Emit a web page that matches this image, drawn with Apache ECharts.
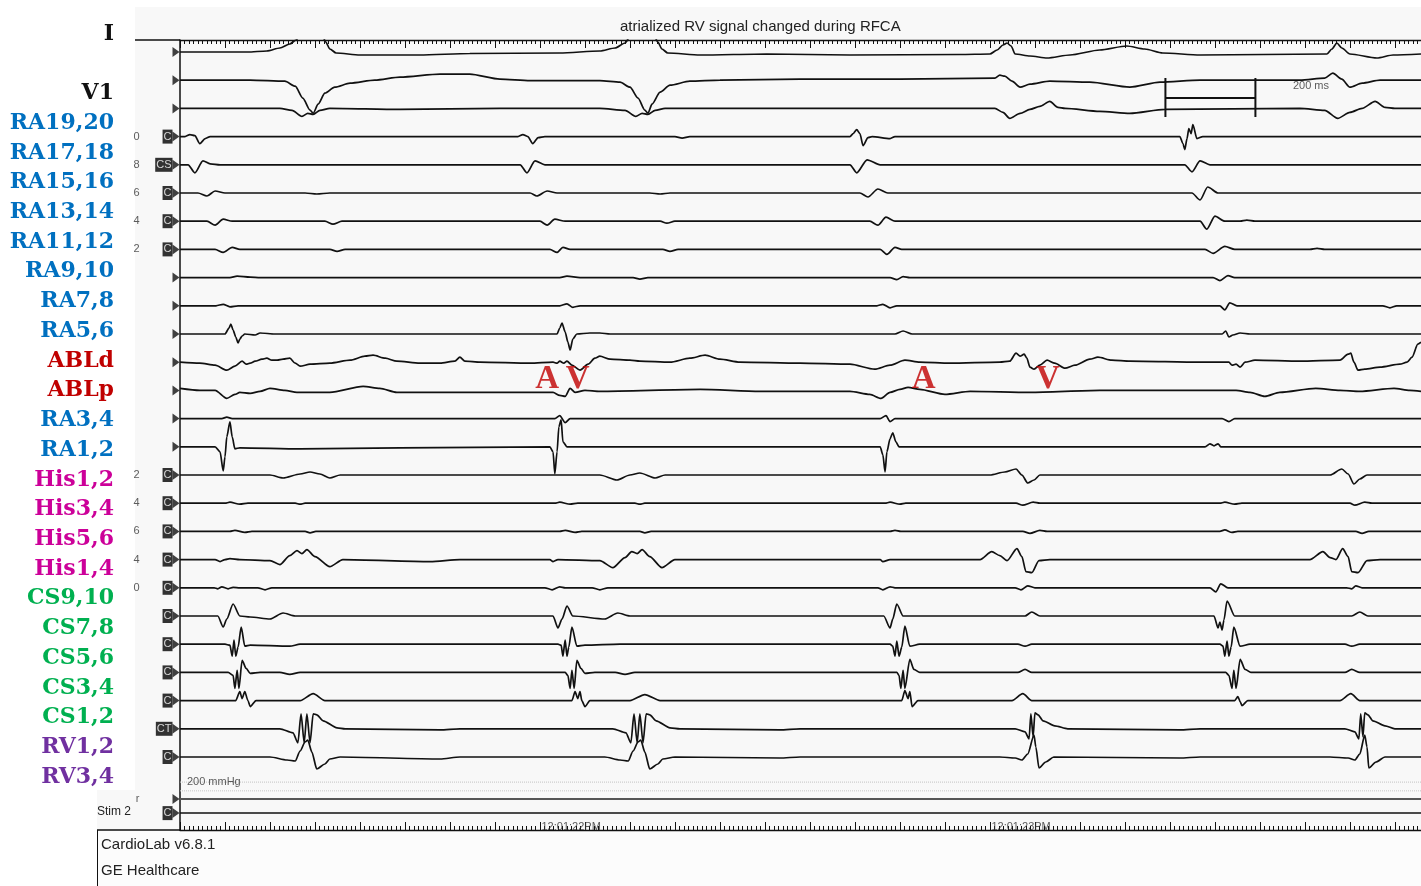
<!DOCTYPE html>
<html>
<head>
<meta charset="utf-8">
<title>atrialized RV signal changed during RFCA</title>
<script src="https://cdn.jsdelivr.net/npm/echarts@6/dist/echarts.min.js"></script>
<style>
  html, body { margin: 0; padding: 0; background: #fff; }
  #chart { width: 1421px; height: 886px; }
</style>
</head>
<body>
<div id="chart"></div>
<script>
// time in ms from the left edge of the sweep, amplitude in display units (+ = up)
const LEAD_I = [[0,0],[150,0],[193,1],[222,4],[244,8],[258,12],[267,17],[316,17],[324,10],[333,3],[347,-1],[400,-3],[533,-3],[644,-1.5],[844,-1],[933,1],[967,4],[989,9],[1002,17],[1053,17],[1062,10],[1071,3],[1084,-1],[1156,-3],[1304,-2],[1489,-3],[1733,-2.5],[1800,-2],[1816,2],[1829,7],[1838,9],[1847,6],[1856,-2],[1889,-4],[1927,-6],[1978,-3],[2044,2],[2104,6],[2144,3],[2184,-1],[2267,-3],[2549,-2],[2560,3],[2571,9],[2582,4],[2600,-2],[2660,-6],[2696,-3],[2758,-2]];
const LEAD_MID = [[0,0],[156,0],[233,-1],[256,-6],[273,-18],[289,-30],[296,-33],[307,-24],[322,-13],[344,-7],[378,-3],[433,0],[489,3],[578,6],[644,6],[711,1],[778,-0.5],[933,-0.5],[978,-2],[1000,-7],[1018,-18],[1033,-30],[1040,-33],[1049,-24],[1067,-12],[1089,-5],[1133,-1],[1200,0],[1378,1],[1600,1],[1811,2],[1822,5],[1833,4],[1849,-1],[1867,-7],[1889,-4],[1933,-1],[2022,-2],[2111,-7],[2178,-2],[2267,0],[2489,0],[2544,2],[2562,7],[2582,1],[2600,-7],[2627,-3],[2667,0],[2758,0]];
const LEAD_V1 = [[0,0],[222,0],[249,-2],[271,-8],[284,-5],[296,-6],[311,-2],[333,0],[489,-1],[711,0],[933,0],[989,-2],[1013,-8],[1027,-5],[1040,-6],[1056,-2],[1078,0],[1600,0],[1811,0],[1829,-4],[1844,-10],[1867,-5],[1889,-1],[1911,2],[1933,7],[1951,1],[1967,0],[2044,-3],[2111,-5],[2189,-1],[2489,0],[2544,-2],[2573,-10],[2600,-4],[2627,0],[2656,7],[2678,1],[2700,0],[2758,0]];
const RA19_20 = [[0,0],[11,0],[22,2],[33,1],[44,-7],[56,-2],[67,0],[751,0],[762,2],[773,0],[784,-7],[796,-1],[811,0],[1100,0],[1116,-1.5],[1133,0],[1489,0],[1496,3],[1504,7],[1511,3],[1518,-9],[1529,-1],[1538,0],[1578,-2],[1589,0],[2222,0],[2229,-7],[2233,-13],[2238,-2],[2242,8],[2247,3],[2251,12],[2260,-2],[2273,0],[2758,0]];
const RA17_18 = [[0,0],[18,0],[33,-8],[51,4],[67,1],[89,0],[756,0],[771,-8],[789,4],[811,0],[1489,0],[1504,-8],[1527,5],[1556,0],[2233,0],[2249,-7],[2267,4],[2289,0],[2758,0]];
const RA15_16 = [[0,0],[40,0],[60,-3],[78,2],[100,0],[278,0],[304,-1],[333,0],[778,0],[793,-3],[816,2],[838,0],[1044,0],[1067,-1],[1089,0],[1511,0],[1529,-4],[1551,4],[1573,0],[2249,0],[2267,-7],[2284,6],[2307,0],[2758,0]];
const RA13_14 = [[0,0],[60,0],[78,-4],[96,2],[116,0],[322,0],[340,-3],[360,0],[800,0],[816,-4],[833,2],[856,0],[1067,0],[1082,-2],[1100,0],[1533,0],[1551,-4],[1569,4],[1589,0],[2267,0],[2282,-8],[2300,5],[2322,0],[2356,0],[2371,1],[2389,0],[2758,0]];
const RA11_12 = [[0,0],[78,0],[96,-3],[116,2],[133,0],[333,0],[349,-2],[367,0],[822,0],[838,-3],[851,2],[867,0],[1073,0],[1089,-2],[1107,0],[1556,0],[1571,-5],[1589,2],[1604,0],[2278,0],[2296,-4],[2322,3],[2344,0],[2511,0],[2527,1],[2544,0],[2758,0]];
const RA9_10 = [[0,0],[111,0],[127,1.5],[156,0.5],[178,0],[844,0],[860,1.5],[889,0],[1007,0],[1022,-1.5],[1040,0],[1578,0],[1593,-2],[1607,1],[1622,0],[2296,0],[2311,-3],[2329,2],[2344,0],[2758,0]];
const RA7_8 = [[0,0],[80,0],[96,1.5],[111,-1],[129,0],[844,0],[860,2],[873,-1.5],[889,0],[1549,0],[1562,1.5],[1578,-2],[1593,0],[2311,0],[2322,-4],[2333,3],[2349,0],[2673,0],[2689,-2],[2704,0],[2758,0]];
const RA5_6 = [[0,0],[100,0],[109,6],[113,10],[118,4],[124,-3],[129,-9],[133,-5],[138,-2],[144,0],[167,-1],[178,1],[211,0],[838,0],[844,6],[849,11],[856,2],[862,-8],[867,-16],[873,-5],[882,0],[911,1],[933,1],[956,0],[1589,0],[1607,3],[1627,0],[2316,0],[2324,3],[2331,-3],[2340,-1],[2356,1],[2378,0],[2758,0]];
const ABL_D = [[0,0],[44,-1],[78,-3],[104,-8],[122,-4],[138,1],[147,-2],[156,-1],[167,1],[182,3],[193,4],[204,2],[216,2],[229,3],[244,4],[256,-1],[267,-4],[289,-2],[333,-1],[378,2],[411,6],[429,7],[456,4],[482,1],[533,-1],[578,-1],[611,1],[622,5],[633,1],[667,0],[778,-1],[829,0],[838,-1],[844,1],[853,-1],[860,1],[871,-3],[889,-8],[907,-2],[922,4],[933,6],[956,3],[1000,2],[1022,1],[1089,0],[1133,4],[1167,7],[1200,3],[1244,0],[1378,-1],[1489,-2],[1544,-7],[1578,-3],[1611,2],[1644,0],[1711,-1],[1822,0],[1844,1],[1858,9],[1867,6],[1876,8],[1882,4],[1889,-5],[1898,-7],[1911,-3],[1927,2],[1944,-1],[1967,-6],[1989,-3],[2022,3],[2040,5],[2071,2],[2111,1],[2267,0],[2331,0],[2338,-3],[2347,-2],[2356,-5],[2367,0],[2389,2],[2489,1],[2578,2],[2596,8],[2602,9],[2609,0],[2618,-8],[2633,-7],[2667,-5],[2711,-2],[2727,0],[2738,5],[2751,18],[2758,20]];
const ABL_P = [[0,2],[44,0],[78,0],[104,-8],[122,-4],[133,-2],[156,-3],[178,-1],[200,2],[233,0],[260,-2],[333,-2],[407,4],[444,2],[482,-2],[778,-2],[829,-2],[844,-5],[856,-6],[867,2],[878,-2],[900,0],[933,-1],[1156,1],[1289,-1],[1489,-1],[1533,-4],[1558,-8],[1578,-2],[1600,1],[1618,3],[1644,1],[1700,-4],[1756,-1],[1889,-2],[2044,0],[2347,0],[2378,-2],[2411,-6],[2444,-2],[2524,2],[2578,0],[2622,-1],[2698,2],[2733,0],[2758,-1]];
const RA3_4 = [[0,0],[93,0],[104,1.5],[116,0],[833,0],[844,3],[856,-4],[867,0],[1556,0],[1569,3],[1578,-3],[1589,0],[2316,0],[2331,-3],[2344,0],[2758,0]];
const RA1_2 = [[0,0],[78,0],[89,-5],[96,-24],[100,-10],[104,10],[111,25],[116,10],[122,-2],[133,-1],[267,-2],[489,-1],[822,0],[829,-5],[833,-27],[838,-5],[842,20],[847,27],[851,5],[860,0],[1556,0],[1562,-8],[1567,-25],[1571,-5],[1578,8],[1584,14],[1591,5],[1598,0],[2278,0],[2289,3],[2298,1],[2307,3],[2313,0],[2758,0]];
const HIS1_2 = [[0,0],[200,0],[229,-3],[267,1],[289,3],[311,1],[333,-3],[356,0],[933,0],[971,-5],[1000,0],[1022,2],[1056,-3],[1078,0],[1800,0],[1833,3],[1858,6],[1871,0],[1884,-8],[1898,-5],[1911,0],[2556,0],[2582,6],[2596,1],[2609,-9],[2622,-4],[2638,0],[2758,0]];
const HIS3_4 = [[0,0],[100,0],[111,1],[133,-1],[151,0],[256,0],[267,-1],[278,0],[833,0],[844,1],[867,-1],[884,0],[1011,0],[1022,-1],[1033,0],[1567,0],[1578,1],[1600,-1],[1613,0],[1858,0],[1873,-2],[1896,1],[1911,0],[2311,0],[2322,1],[2344,-1],[2360,0],[2600,0],[2611,-2],[2633,1],[2649,0],[2758,0]];
const HIS5_6 = [[0,0],[111,0],[122,1],[144,-1],[160,0],[278,0],[289,-1.5],[302,0],[844,0],[856,1],[878,-1],[893,0],[1022,0],[1033,-1.5],[1047,0],[1578,0],[1589,1],[1602,0],[1873,0],[1889,-2],[1911,1],[1927,0],[2311,0],[2322,1.5],[2338,-1],[2351,0],[2613,0],[2627,-2],[2642,0],[2758,0]];
const HIS1_4 = [[0,0],[78,0],[89,-2],[100,0],[111,1],[133,0],[200,-1],[222,-5],[244,4],[260,9],[271,6],[282,10],[300,3],[333,-7],[362,0],[556,-2],[622,0],[822,0],[829,-2],[840,0],[933,-1],[962,-8],[989,2],[1004,8],[1016,6],[1027,10],[1044,3],[1071,-8],[1100,0],[1556,0],[1562,-2],[1578,0],[1778,0],[1804,8],[1822,4],[1838,-1],[1860,11],[1871,3],[1880,-12],[1893,-13],[1909,-1],[1933,0],[2511,0],[2540,8],[2556,2],[2569,0],[2584,11],[2596,3],[2604,-12],[2618,-13],[2638,-1],[2667,0],[2758,0]];
const CS9_10 = [[0,0],[76,0],[84,-1],[93,1],[107,-1],[118,0.5],[133,0],[173,0],[189,-2],[204,0],[811,0],[827,-2],[844,1],[856,0],[916,0],[933,-2],[951,0],[1551,0],[1562,-2],[1578,1],[1589,0],[1856,0],[1869,-2],[1884,2],[1900,0],[2289,0],[2302,-4],[2313,4],[2329,0],[2593,0],[2604,-1],[2613,2],[2627,0],[2758,0]];
const CS7_8 = [[0,0],[84,0],[96,-11],[104,-3],[118,12],[133,0],[156,-1],[200,-3],[229,3],[256,0],[829,0],[840,-12],[849,-3],[860,10],[873,0],[944,-3],[973,3],[1000,0],[1564,0],[1578,-12],[1584,-3],[1593,12],[1607,0],[1878,0],[1893,4],[1911,0],[2298,0],[2307,-12],[2311,-6],[2316,-14],[2320,-4],[2327,15],[2344,0],[2604,0],[2622,4],[2640,0],[2758,0]];
const CS5_6 = [[0,0],[100,0],[111,-1],[116,-12],[120,4],[124,-12],[129,-3],[136,17],[144,-2],[156,-1],[244,-2],[267,0],[840,0],[847,-1],[851,-12],[856,4],[860,-12],[864,-3],[871,17],[882,-2],[900,-1],[978,0],[1578,0],[1584,-2],[1589,-12],[1593,3],[1598,-12],[1604,-3],[1611,18],[1622,-2],[1644,0],[1862,0],[1878,-2],[1893,0],[2311,0],[2318,-2],[2322,-12],[2327,3],[2331,-12],[2336,-3],[2342,17],[2356,-2],[2378,0],[2589,0],[2604,-2],[2622,0],[2758,0]];
const CS3_4 = [[0,0],[107,0],[118,-3],[122,-16],[127,2],[131,-16],[138,12],[147,4],[156,-1],[178,0],[222,0],[244,-2],[267,0],[856,0],[862,-3],[867,-16],[871,2],[876,-16],[882,12],[891,4],[900,-1],[922,0],[967,0],[989,-2],[1011,0],[1593,0],[1598,-3],[1602,-16],[1607,2],[1611,-16],[1622,13],[1631,3],[1644,0],[1862,0],[1878,3],[1893,0],[2324,0],[2331,-3],[2338,-16],[2342,2],[2347,-16],[2356,13],[2367,3],[2380,0],[2589,0],[2604,3],[2622,0],[2758,0]];
const CS1_2 = [[0,0],[124,0],[133,9],[138,2],[144,9],[151,0],[156,-6],[169,0],[267,0],[296,7],[322,0],[871,0],[878,9],[884,2],[889,9],[893,0],[900,-6],[911,0],[1000,0],[1033,6],[1067,0],[1604,0],[1611,10],[1618,2],[1622,9],[1627,-6],[1640,0],[1849,0],[1873,7],[1893,0],[2344,0],[2351,4],[2356,-1],[2360,-5],[2373,0],[2578,0],[2602,7],[2622,0],[2758,0]];
const RV1_2 = [[0,0],[222,0],[251,-4],[262,-14],[269,15],[276,-14],[282,15],[289,-14],[296,15],[304,14],[318,8],[349,1],[367,0],[578,-1],[622,0],[962,0],[991,-4],[1002,-14],[1009,15],[1016,-14],[1022,15],[1029,-14],[1036,15],[1044,14],[1058,8],[1089,1],[1111,0],[1333,-1],[1378,0],[1856,0],[1878,-3],[1887,-10],[1891,15],[1896,-8],[1900,16],[1907,14],[1918,8],[1944,3],[1973,0],[2222,-1],[2267,0],[2589,0],[2611,-3],[2620,-10],[2624,15],[2629,-8],[2633,16],[2640,14],[2651,8],[2678,3],[2700,0],[2758,0]];
const RV3_4 = [[0,0],[200,0],[238,-3],[256,-4],[267,6],[278,15],[284,17],[293,5],[304,-12],[322,-7],[333,-2],[356,0],[578,-2],[622,0],[944,0],[978,-3],[996,-4],[1007,6],[1018,15],[1024,17],[1033,5],[1044,-12],[1062,-7],[1073,-2],[1100,0],[1333,-1],[1378,0],[1822,0],[1856,-1],[1871,-3],[1884,3],[1898,22],[1902,10],[1909,-11],[1924,-5],[1942,0],[2222,-1],[2267,0],[2556,0],[2596,-1],[2611,-3],[2622,3],[2633,22],[2638,10],[2642,-11],[2658,-5],[2678,0],[2758,0]];

// channel labels on the left (slot = label row, not trace row)
const LABEL_SLOTS = ['I', '', 'V1', 'RA19,20', 'RA17,18', 'RA15,16', 'RA13,14', 'RA11,12', 'RA9,10', 'RA7,8', 'RA5,6',
  'ABLd', 'ABLp', 'RA3,4', 'RA1,2', 'His1,2', 'His3,4', 'His5,6', 'His1,4', 'CS9,10', 'CS7,8', 'CS5,6', 'CS3,4', 'CS1,2', 'RV1,2', 'RV3,4'];

// channel tags next to the trace arrows
const BOX_ROWS = [3, 4, 5, 6, 7, 15, 16, 17, 18, 19, 20, 21, 22, 23, 24, 25, 26.99];
const BOX_TAGS = ['C', 'CS', 'C', 'C', 'C', 'C', 'C', 'C', 'C', 'C', 'C', 'C', 'C', 'C', 'CT', 'C', 'C'];
const NUM_ROWS = [3, 4, 5, 6, 7, 15, 16, 17, 18, 19, 26.49];
const NUM_TAGS = ['0', '8', '6', '4', '2', '2', '4', '6', '4', '0', 'r'];

const STIM_ROWS = [26.49, 26.99];
const PRESSURE_ROWS = [25.89, 26.2];

// A / V annotations on the ablation channel
const MARK_TIMES = [816, 884, 1653, 1929];
const MARK_TEXT = ['A', 'V', 'A', 'V'];
const MARK_ROW = 11.6;

const CLOCK_TIMES = [800, 1800];
const CLOCK_TEXT = ['12:01:22PM', '12:01:23PM'];

const SCALE_START = 2190;
const SCALE_MS = 200;

const SWEEP_MS = 2758;
const SPACING = 28.2;

const TRACES = [LEAD_I, LEAD_MID, LEAD_V1, RA19_20, RA17_18, RA15_16, RA13_14, RA11_12, RA9_10, RA7_8, RA5_6,
  ABL_D, ABL_P, RA3_4, RA1_2, HIS1_2, HIS3_4, HIS5_6, HIS1_4, CS9_10, CS7_8, CS5_6, CS3_4, CS1_2, RV1_2, RV3_4];

const LABEL_COLORS = { ecg: '#111111', ra: '#0070C0', abl: '#C00000', his: '#CC0099', cs: '#00B050', rv: '#7030A0' };
function group(name) {
  if (name.startsWith('RA')) return 'ra';
  if (name.startsWith('ABL')) return 'abl';
  if (name.startsWith('His')) return 'his';
  if (name.startsWith('CS')) return 'cs';
  if (name.startsWith('RV')) return 'rv';
  return 'ecg';
}
const rich = {};
Object.keys(LABEL_COLORS).forEach(k => {
  rich[k] = { color: LABEL_COLORS[k], fontFamily: 'DejaVu Serif', fontWeight: 'bold', fontSize: 22 };
});

const SANS = 'Liberation Sans, Arial, sans-serif';

function ruler(pos) {
  return {
    type: 'value', position: pos, min: 0, max: SWEEP_MS, interval: 100,
    axisLine: { show: true, onZero: false, lineStyle: { color: '#111', width: 1.3 } },
    axisTick: { show: true, inside: true, length: 8, lineStyle: { color: '#111', width: 1 } },
    minorTick: { show: true, splitNumber: 10, length: 4, lineStyle: { color: '#111', width: 1 } },
    axisLabel: { show: false }, splitLine: { show: false }, minorSplitLine: { show: false }
  };
}

const series = [];

// 波形
TRACES.forEach((pts, i) => {
  series.push({
    type: 'line', silent: true, symbol: 'none', smooth: 0.25, smoothMonotone: 'x', z: 4,
    lineStyle: { color: '#111', width: 1.7 },
    data: pts.map(p => [p[0], i * SPACING - p[1]])
  });
});

STIM_ROWS.forEach((r, i) => {
  series.push({
    type: 'line', silent: true, symbol: 'none', z: 3,
    lineStyle: { color: i === 0 ? '#555' : '#111', width: i === 0 ? 2 : 1.5 },
    data: [[0, r * SPACING], [SWEEP_MS, r * SPACING]]
  });
});

PRESSURE_ROWS.forEach(r => {
  series.push({
    type: 'line', silent: true, symbol: 'none', z: 2,
    lineStyle: { color: '#c4c4c4', width: 1, type: 'dotted' },
    data: [[0, r * SPACING], [SWEEP_MS, r * SPACING]]
  });
});

// 200 ms calibration bar
series.push({
  type: 'line', silent: true, symbol: 'none', z: 4,
  lineStyle: { color: '#111', width: 2 },
  data: [[SCALE_START, 26], [SCALE_START, 65], [SCALE_START, 46], [SCALE_START + SCALE_MS, 46],
    [SCALE_START + SCALE_MS, 26], [SCALE_START + SCALE_MS, 65]]
});

// arrows at the start of each row
const arrowRows = TRACES.map((_, i) => i).concat(STIM_ROWS);
series.push({
  type: 'scatter', silent: true, clip: false, z: 5,
  symbol: 'path://M0 0L8 5L0 10Z', symbolSize: [7, 10], symbolOffset: [-4, 0],
  itemStyle: { color: '#111' },
  data: arrowRows.map(r => [0, r * SPACING])
});

series.push({
  type: 'scatter', silent: true, clip: false, z: 5, symbolSize: 1,
  itemStyle: { color: 'transparent' },
  label: {
    show: true, position: 'left', distance: 7, formatter: '{b}',
    backgroundColor: '#000', color: '#fff', fontFamily: SANS, fontSize: 11,
    padding: [2, 1, 1, 1], lineHeight: 11
  },
  data: BOX_ROWS.map((r, i) => ({ name: BOX_TAGS[i], value: [0, r * SPACING] }))
});

series.push({
  type: 'scatter', silent: true, clip: false, z: 5, symbolSize: 1,
  itemStyle: { color: 'transparent' },
  label: { show: true, position: 'left', distance: 40, formatter: '{b}', color: '#333', fontFamily: SANS, fontSize: 11 },
  data: NUM_ROWS.map((r, i) => ({ name: NUM_TAGS[i], value: [0, r * SPACING] }))
});

series.push({
  type: 'scatter', silent: true, clip: false, z: 6, symbolSize: 1,
  itemStyle: { color: 'transparent' },
  label: { show: true, position: 'inside', formatter: '{b}', color: '#C00000',
    fontFamily: 'Liberation Serif', fontWeight: 'bold', fontSize: 33 },
  data: MARK_TIMES.map((t, i) => ({ name: MARK_TEXT[i], value: [t, MARK_ROW * SPACING] }))
});

series.push({
  type: 'scatter', silent: true, clip: false, z: 6, symbolSize: 1,
  itemStyle: { color: 'transparent' },
  label: { show: true, position: 'right', distance: 1, formatter: '{b}', color: '#333', fontFamily: SANS, fontSize: 11 },
  data: CLOCK_TIMES.map((t, i) => ({ name: CLOCK_TEXT[i], value: [t, 775] }))
    .concat([{ name: '200 mmHg', value: [12, PRESSURE_ROWS[0] * SPACING] },
      { name: '200 ms', value: [SCALE_START + 280, 34] }])
});

const option = {
  animation: false,
  backgroundColor: '#ffffff',
  title: {
    text: 'atrialized RV signal changed during RFCA', left: 615, top: 14,
    textStyle: { fontFamily: SANS, fontSize: 15, fontWeight: 'normal', color: '#222' }
  },
  graphic: [
    { type: 'rect', z: -10, silent: true, shape: { x: 135, y: 7, width: 1286, height: 824 }, style: { fill: '#f8f8f8' } },
    { type: 'rect', z: -10, silent: true, shape: { x: 97, y: 790, width: 40, height: 96 }, style: { fill: '#f8f8f8' } },
    { type: 'rect', z: -9, silent: true, shape: { x: 97, y: 831, width: 1324, height: 55 }, style: { fill: '#fcfcfc' } },
    { type: 'line', z: 10, silent: true, shape: { x1: 135, y1: 40, x2: 180, y2: 40 }, style: { stroke: '#111', lineWidth: 1.3 } },
    { type: 'line', z: 10, silent: true, shape: { x1: 97, y1: 830, x2: 180, y2: 830 }, style: { stroke: '#111', lineWidth: 1.3 } },
    { type: 'line', z: 10, silent: true, shape: { x1: 97.5, y1: 830, x2: 97.5, y2: 886 }, style: { stroke: '#111', lineWidth: 1 } },
    { type: 'text', z: 10, silent: true, left: 97, top: 806, style: { text: 'Stim 2', font: '12px ' + SANS, fill: '#222' } },
    { type: 'text', z: 10, silent: true, left: 101, top: 837, style: { text: 'CardioLab v6.8.1', font: '15px ' + SANS, fill: '#222' } },
    { type: 'text', z: 10, silent: true, left: 101, top: 863, style: { text: 'GE Healthcare', font: '15px ' + SANS, fill: '#222' } }
  ],
  grid: [
    { left: 180, right: 0, top: 40, bottom: 56 },
    { left: 116, top: 19, width: 1, height: 773 }
  ],
  xAxis: [ruler('top'), ruler('bottom'), { type: 'value', gridIndex: 1, show: false }],
  yAxis: [
    {
      type: 'value', inverse: true, min: -12, max: 778,
      axisLine: { show: true, onZero: false, lineStyle: { color: '#111', width: 1.5 } },
      axisTick: { show: false }, axisLabel: { show: false }, splitLine: { show: false }
    },
    {
      type: 'category', gridIndex: 1, inverse: true, position: 'left', data: LABEL_SLOTS,
      axisLine: { show: false }, axisTick: { show: false }, splitLine: { show: false },
      axisLabel: {
        interval: 0, margin: 2, rich: rich,
        formatter: v => v ? '{' + group(v) + '|' + v + '}' : ''
      }
    }
  ],
  series: series
};

const chart = echarts.init(document.getElementById('chart'));
chart.setOption(option);
</script>
</body>
</html>
